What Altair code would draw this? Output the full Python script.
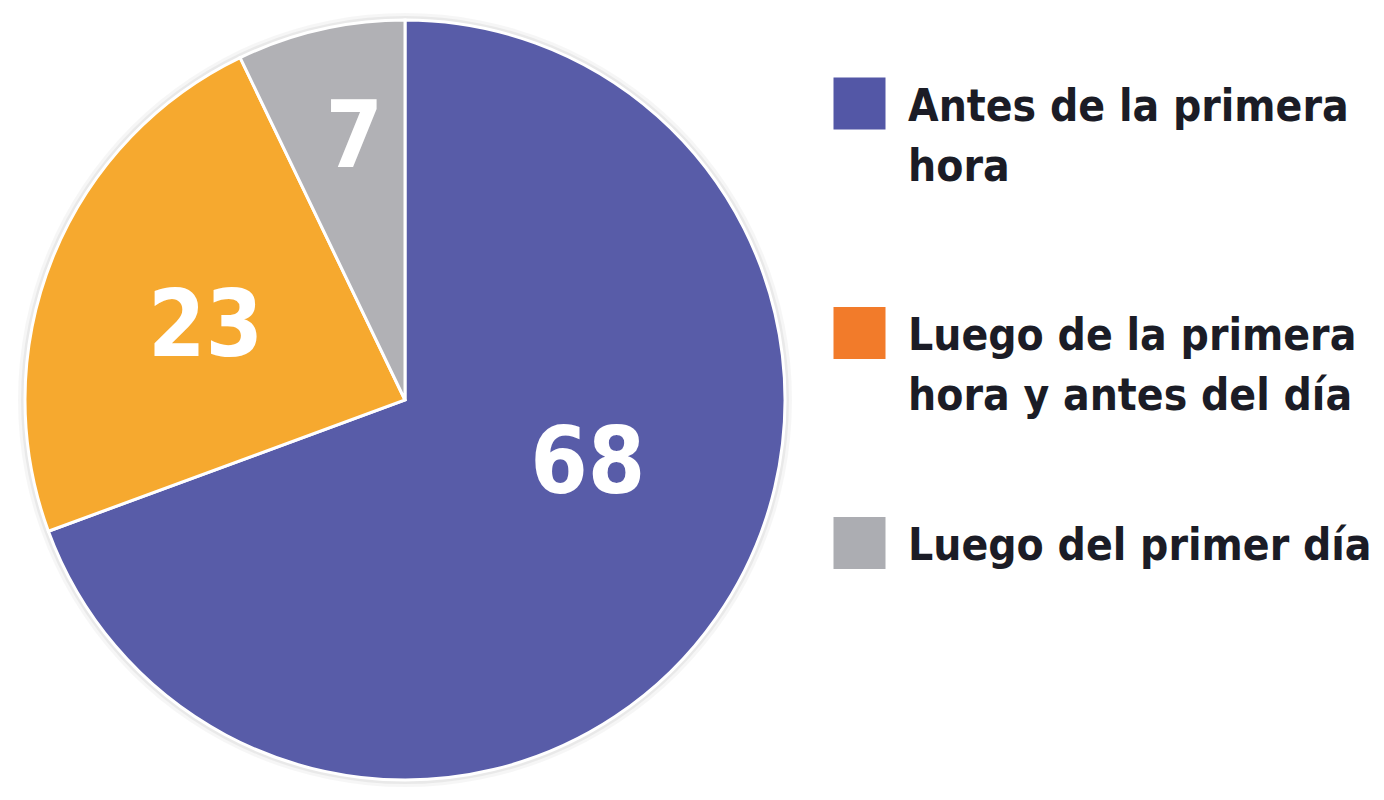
import altair as alt
import pandas as pd

# ---- data ----
categories = [
    "Antes de la primera hora",
    "Luego de la primera hora y antes del día",
    "Luego del primer día",
]
values = [68, 23, 7]
legend_lines = [
    ["Antes de la primera", "hora"],
    ["Luego de la primera", "hora y antes del día"],
    ["Luego del primer día"],
]
slice_colors = ["#585ca8", "#f6a92f", "#b1b1b5"]
legend_colors = ["#5357a6", "#f27b2a", "#acadb2"]

FONT = "DejaVu Sans Condensed, Roboto, sans-serif"

df = pd.DataFrame({"cat": categories, "valor": values, "idx": list(range(len(values)))})
leg = pd.DataFrame({"cat": categories, "lines": legend_lines, "idx": list(range(len(values)))})

R = 380

base = alt.Chart(df).encode(
    theta=alt.Theta("valor:Q", stack=True),
    order=alt.Order("idx:Q"),
)

shadow1 = alt.Chart(pd.DataFrame({"v": [1]})).mark_arc(
    theta=0, theta2=6.2832, radius=R + 7, opacity=0.035
).encode(color=alt.value("#000000"))
shadow2 = alt.Chart(pd.DataFrame({"v": [1]})).mark_arc(
    theta=0, theta2=6.2832, radius=R + 4, opacity=0.05
).encode(color=alt.value("#000000"))

arcs = base.mark_arc(radius=R, stroke="#ffffff", strokeWidth=3).encode(
    color=alt.Color("cat:N", scale=alt.Scale(domain=categories, range=slice_colors), legend=None)
)

labels = base.mark_text(
    radius=alt.expr("datum.idx == 0 ? 194 : datum.idx == 1 ? 212 : 266"),
    thetaOffset=alt.expr("datum.idx == 0 ? -0.267 : datum.idx == 1 ? -0.038 : 0.033"),
    font=FONT,
    fontSize=92,
    fontWeight="bold",
    color="#ffffff",
    align="center",
    baseline="middle",
).encode(text=alt.Text("valor:Q"))

pie = alt.layer(shadow1, shadow2, arcs, labels).properties(width=784, height=770)

ypos = alt.Y("idx:Q", scale=alt.Scale(domain=[0, 1, 2], range=[88.5, 318, 528]), axis=None)

swatches = alt.Chart(leg).mark_square(size=52 * 52, opacity=1).encode(
    x=alt.value(62.5),
    y=ypos,
    color=alt.Color("cat:N", scale=alt.Scale(domain=categories, range=legend_colors), legend=None),
)

texts = alt.Chart(leg).mark_text(
    font=FONT,
    fontSize=44,
    fontWeight="bold",
    color="#1b1c26",
    align="left",
    baseline="alphabetic",
    lineHeight=60,
    dy=17,
).encode(
    x=alt.value(111),
    y=ypos,
    text=alt.Text("lines"),
)

legend_panel = alt.layer(swatches, texts).resolve_scale(color="independent").properties(width=575, height=770)

chart = (
    alt.hconcat(pie, legend_panel, spacing=0)
    .resolve_scale(color="independent", theta="independent")
    .configure_view(stroke=None)
    .properties(background="#ffffff", padding={"left": 5, "top": 5, "right": 0, "bottom": 5})
)

chart.save("out.html", embed_options={"renderer": "svg", "actions": False})
